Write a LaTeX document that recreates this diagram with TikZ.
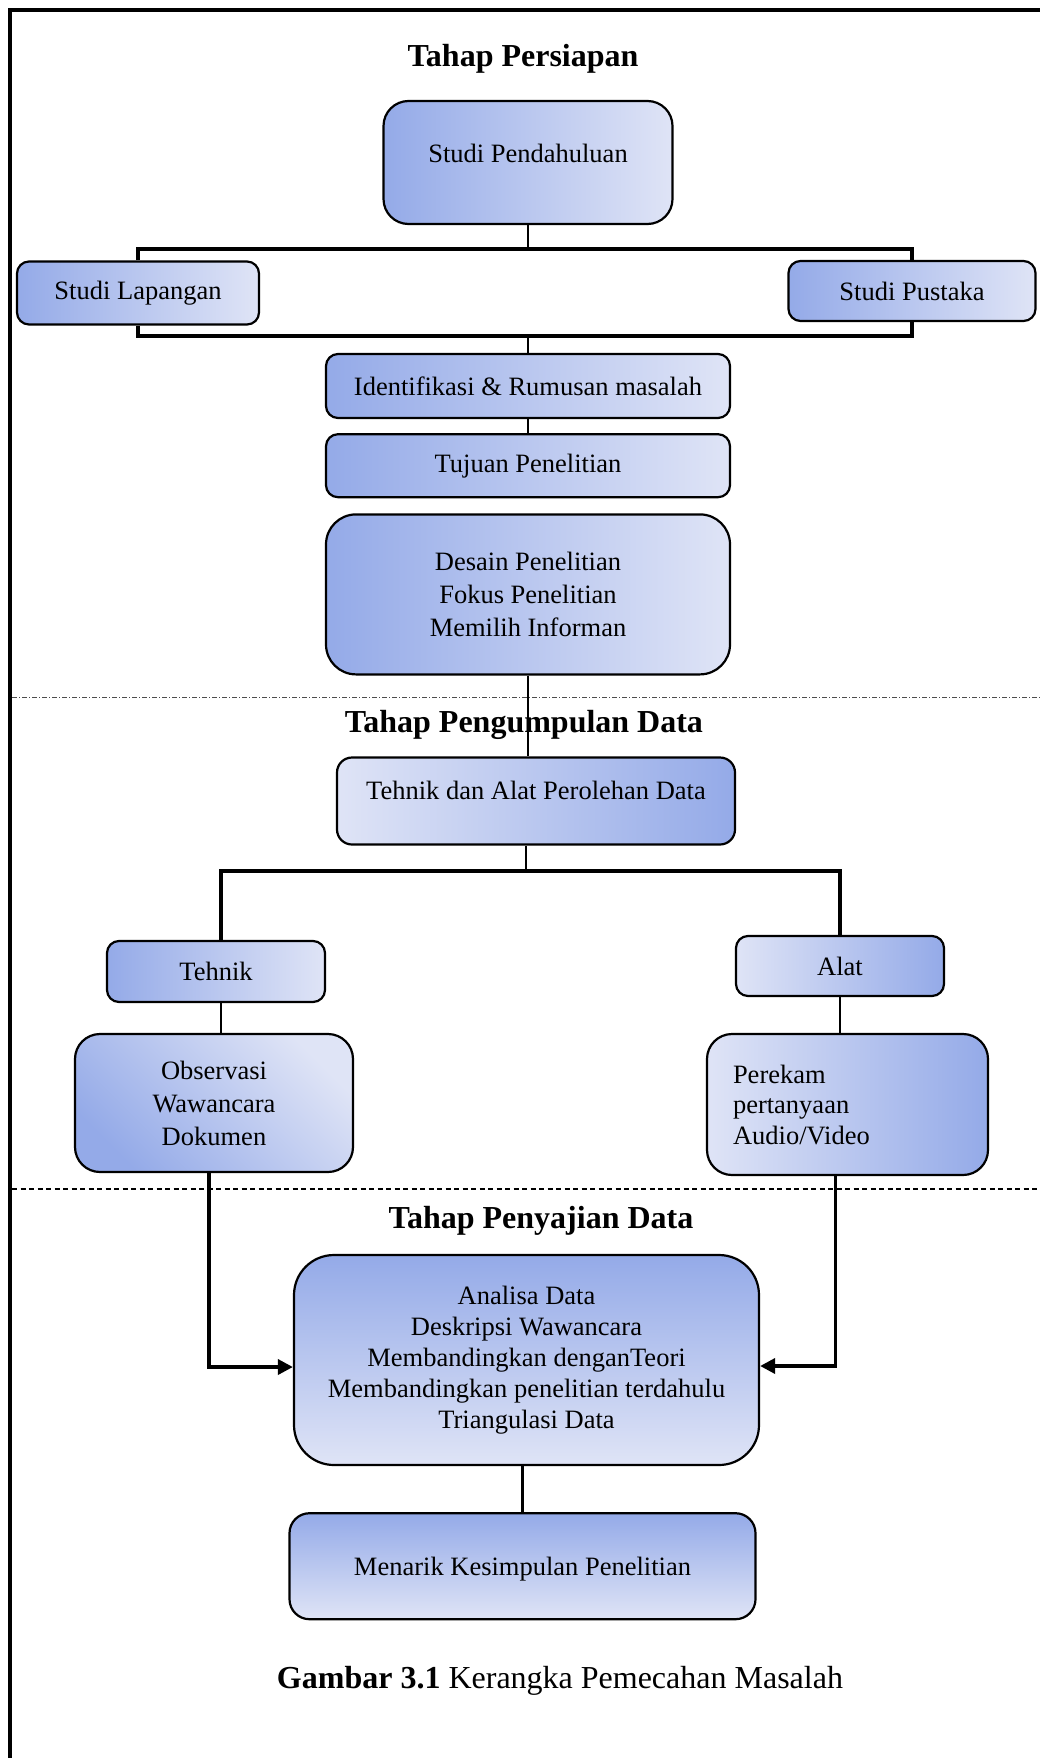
\documentclass[tikz,border=0pt]{standalone}
\usepackage{fontspec}
\setmainfont{Liberation Serif}
\usepackage{xcolor}
\usepackage{tikz}
\usetikzlibrary{arrows.meta,positioning}

\definecolor{blu}{RGB}{148,170,232}
\definecolor{lite}{RGB}{223,228,246}
\newcommand\boxfont{\fontsize{26.5}{33}\selectfont}
\newcommand\ttlfont{\fontsize{32}{38}\selectfont}

\begin{document}
\begin{tikzpicture}[
  x=1pt,y=-1pt,
  box/.style={draw,line width=2.2pt,rounded corners=12pt,align=center,font=\boxfont},
  lr/.style={left color=blu,right color=lite},
  rl/.style={left color=lite,right color=blu},
  tb/.style={top color=blu,bottom color=lite},
  ttl/.style={anchor=base,font=\ttlfont\bfseries},
  link/.style={line width=2.5pt},
  bar/.style={line width=3.4pt},
  arr/.style={-{Triangle[length=15pt,width=15pt]},line width=3.5pt}
]
\useasboundingbox (0,0) rectangle (1040,1758);
\draw[line width=3.5pt] (10,1758) -- (10,10) -- (1040,10);

\node[ttl] (t1) at (523,67) {Tahap Persiapan};
\node[box,lr,rounded corners=25pt,minimum width=289pt,minimum height=123pt,text depth=19pt] (pend) at (528,162.5) {Studi Pendahuluan};
\node[box,lr,minimum width=242pt,minimum height=63pt] (lap) at (138,293) {Studi Lapangan};
\node[box,lr,minimum width=247pt,minimum height=60pt] (pus) at (912,291) {Studi Pustaka};
\node[box,lr,minimum width=404pt,minimum height=64pt] (iden) at (528,386) {Identifikasi \& Rumusan masalah};
\node[box,lr,minimum width=404pt,minimum height=63pt,below=14pt of iden] (tuj) {Tujuan Penelitian};
\node[box,lr,rounded corners=30pt,minimum width=404pt,minimum height=160pt,below=15pt of tuj] (des) {Desain Penelitian\\Fokus Penelitian\\Memilih Informan};

\draw[dash pattern=on 5pt off 2pt on 1pt off 2pt,line width=1pt,black!70] (12,697) -- (1040,697);

\node[ttl] (t2) at (524,732) {Tahap Pengumpulan Data};
\node[box,rl,rounded corners=15pt,minimum width=398pt,minimum height=87pt,text depth=22pt] (alatdata) at (536,801) {Tehnik dan Alat Perolehan Data};
\node[box,lr,minimum width=218pt,minimum height=61pt] (teh) at (216,971.5) {Tehnik};
\node[box,rl,minimum width=208pt,minimum height=60pt] (alat) at (840,966) {Alat};
\node[box,top color=lite,bottom color=blu,shading angle=-45,rounded corners=25pt,minimum width=278pt,minimum height=138pt] (obs) at (214,1103) {Observasi\\Wawancara\\Dokumen};
\node[box,rl,rounded corners=25pt,text width=229pt,inner xsep=26pt,align=left,minimum height=141pt,font=\fontsize{26.5}{30.5}\selectfont] (rek) at (847.5,1104.5) {Perekam\\pertanyaan\\Audio/Video};

\draw[dash pattern=on 5pt off 3.5pt,line width=1.3pt] (12,1189) -- (1040,1189);

\node[ttl] (t3) at (541,1228) {Tahap Penyajian Data};
\node[box,tb,rounded corners=40pt,minimum width=465pt,minimum height=210pt,font=\fontsize{26.5}{31}\selectfont] (ana) at (526.5,1360) {Analisa Data\\Deskripsi Wawancara\\Membandingkan denganTeori\\Membandingkan penelitian terdahulu\\Triangulasi Data};
\node[box,tb,rounded corners=20pt,minimum width=466pt,minimum height=106pt,text depth=0pt,below=46pt of ana,xshift=-4pt] (kes) {Menarik Kesimpulan Penelitian};

\node[anchor=base,font=\ttlfont] (cap) at (560,1688) {\textbf{Gambar 3.1} Kerangka Pemecahan Masalah};

\coordinate (up) at (528,249);
\coordinate (lo) at (528,336);
\coordinate (mid) at (526,871);
\draw[link] (pend) -- (up);
\draw[bar] (lap.north) |- (up) -| (pus.north);
\draw[bar] (lap.south) |- (lo) -| (pus.south);
\draw[link] (lo) -- (iden);
\draw[link] (iden) -- (tuj);
\draw[link] (des.south) -- (des.south |- alatdata.north);
\draw[link] (alatdata.south -| mid) -- (mid);
\draw[bar] ([xshift=5pt]teh.north) |- (mid) -| (alat.north);
\draw[link] ([xshift=5pt]teh.south) -- ([xshift=5pt]teh.south |- obs.north);
\draw[link] (alat.south) -- (alat.south |- rek.north);
\draw[arr] ([xshift=-5pt]obs.south) |- ([yshift=-7pt]ana.west);
\draw[arr] ([xshift=-12pt]rek.south) |- ([yshift=-6pt]ana.east);
\draw[link] (ana.south -| kes.north) -- (kes.north);
\end{tikzpicture}
\end{document}
